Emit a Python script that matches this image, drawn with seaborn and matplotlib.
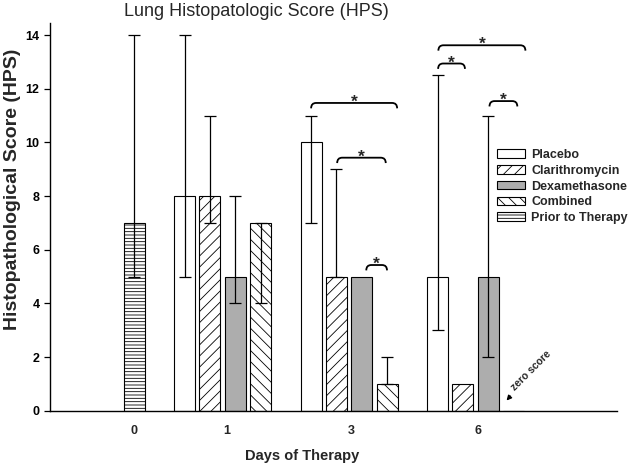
import numpy as np
import pandas as pd
import matplotlib
matplotlib.use("Agg")
import matplotlib.pyplot as plt
from matplotlib.patches import Patch, PathPatch
from matplotlib.path import Path
import seaborn as sns

days = ["0", "1", "3", "6"]
treatments = ["Placebo", "Clarithromycin", "Dexamethasone", "Combined", "Prior to Therapy"]

# median HPS per day (None = group not scored that day)
placebo = [None, 8, 10, 5]
clarithro = [None, 8, 5, 1]
dexa = [None, 5, 5, 5]
combined = [None, 7, 1, 0]
prior = [7, None, None, None]

# range of scores, low / high (same as median = no whisker that side)
placebo_lo = [None, 5, 7, 3]
placebo_hi = [None, 14, 11, 12.5]
clarithro_lo = [None, 7, 5, 1]
clarithro_hi = [None, 11, 9, 1]
dexa_lo = [None, 4, 5, 2]
dexa_hi = [None, 8, 5, 11]
combined_lo = [None, 4, 1, 0]
combined_hi = [None, 7, 2, 0]
prior_lo = [5, None, None, None]
prior_hi = [14, None, None, None]

# significance brackets: (day index, from offset, to offset, height)
brackets = [
    (2, -1.5, 1.9, 11.47),
    (2, -0.47, 1.45, 9.43),
    (2, 0.68, 1.5, 5.43),
    (3, -1.47, 1.97, 13.62),
    (3, -1.48, -0.42, 12.94),
    (3, 0.55, 1.65, 11.54),
]

values = [placebo, clarithro, dexa, combined, prior]
lows = [placebo_lo, clarithro_lo, dexa_lo, combined_lo, prior_lo]
highs = [placebo_hi, clarithro_hi, dexa_hi, combined_hi, prior_hi]
colors = ["white", "white", "#adadad", "white", "white"]
hatches = ["", "///", "", "\\\\\\", "-----"]
offsets = [-1.5, -0.5, 0.5, 1.5, 1.5]
group_centers = [1.5 + 5 * i for i in range(len(days))]

rows = []
for t, vals, lo, hi, off in zip(treatments, values, lows, highs, offsets):
    for i, v in enumerate(vals):
        if v is None:
            continue
        rows.append({"treatment": t, "day": days[i], "value": v,
                     "low": lo[i], "high": hi[i],
                     "slot": int(group_centers[i] + off)})
df = pd.DataFrame(rows)

sns.set_style("ticks")
plt.rcParams["font.family"] = ["Liberation Sans", "DejaVu Sans"]
plt.rcParams["hatch.linewidth"] = 0.6
plt.rcParams["hatch.color"] = "#333333"

fig = plt.figure(figsize=(6.32, 4.67), dpi=100)
ax = fig.add_axes([50 / 632, 1 - 410.7 / 467, 567 / 632, 387.7 / 467])

slots = list(range(22))
for t, c, h in zip(treatments, colors, hatches):
    sub = df[df.treatment == t]
    sns.barplot(data=sub, x="slot", y="value", order=slots, color=c,
                saturation=1, width=0.83, edgecolor="black", linewidth=0.8,
                hatch=h, errorbar=None, ax=ax)

for _, r in df.iterrows():
    if r.low == r.value and r.high == r.value:
        continue
    ax.errorbar(r.slot, r.value, yerr=[[r.value - r.low], [r.high - r.value]],
                fmt="none", ecolor="black", elinewidth=0.9, capsize=4.3,
                capthick=0.9, zorder=5)

# brackets with stars
for g, a, b, y in brackets:
    x0 = group_centers[g] + a
    x1 = group_centers[g] + b
    r, h = 0.2, 0.2
    verts = [(x0, y - h), (x0, y), (x0 + r, y), (x1 - r, y), (x1, y), (x1, y - h)]
    codes = [Path.MOVETO, Path.CURVE3, Path.CURVE3, Path.LINETO, Path.CURVE3, Path.CURVE3]
    ax.add_patch(PathPatch(Path(verts, codes), fill=False, lw=1.3, color="black"))
    ax.text((x0 + x1) / 2, y + 0.02, "*", ha="center", va="center",
            fontsize=12.5, fontweight="bold")

# zero score note
ax.annotate("", xy=(17.65, 0.3), xytext=(17.95, 0.62),
            arrowprops=dict(arrowstyle="-|>", color="black", lw=1, mutation_scale=7))
ax.text(18.1, 0.7, "zero score", rotation=45, rotation_mode="anchor",
        ha="left", va="bottom", fontsize=7.5, fontweight="bold")

ax.set_xlim(-0.32, 22.09)
ax.set_ylim(0, 14.45)
ax.set_xticks([3.0, 6.65, 11.6, 16.6])
ax.set_xticklabels(days)
ax.set_yticks(np.arange(0, 15, 2))
ax.tick_params(axis="x", length=0, pad=10, labelsize=9)
ax.tick_params(axis="y", length=4, width=0.9, direction="out", labelsize=9, colors="black")
for lab in ax.get_xticklabels() + ax.get_yticklabels():
    lab.set_fontweight("bold")
sns.despine(ax=ax)
for s in ["left", "bottom"]:
    ax.spines[s].set_color("black")
    ax.spines[s].set_linewidth(1.0)

ax.set_xlabel("Days of Therapy", fontsize=10.5, fontweight="bold")
ax.xaxis.set_label_coords((302 - 50) / 567, -0.1)
ax.set_ylabel("Histopathological Score (HPS)", fontsize=14, fontweight="bold")
ax.yaxis.set_label_coords(-0.052, 0.57)

fig.text(256 / 632, 1 - 11 / 467, "Lung Histopatologic Score (HPS)",
         ha="center", va="center", fontsize=13)

handles = [Patch(facecolor=c, edgecolor="black", hatch=h, linewidth=0.8)
           for c, h in zip(colors, hatches)]
fig.legend(handles, treatments, loc="upper left", bbox_to_anchor=(497 / 632, 1 - 149 / 467),
           frameon=False, prop={"weight": "bold", "size": 9},
           handlelength=2.2, handleheight=0.65, labelspacing=0.3,
           handletextpad=0.55, borderpad=0, borderaxespad=0)

fig.savefig("out.png", dpi=100)
